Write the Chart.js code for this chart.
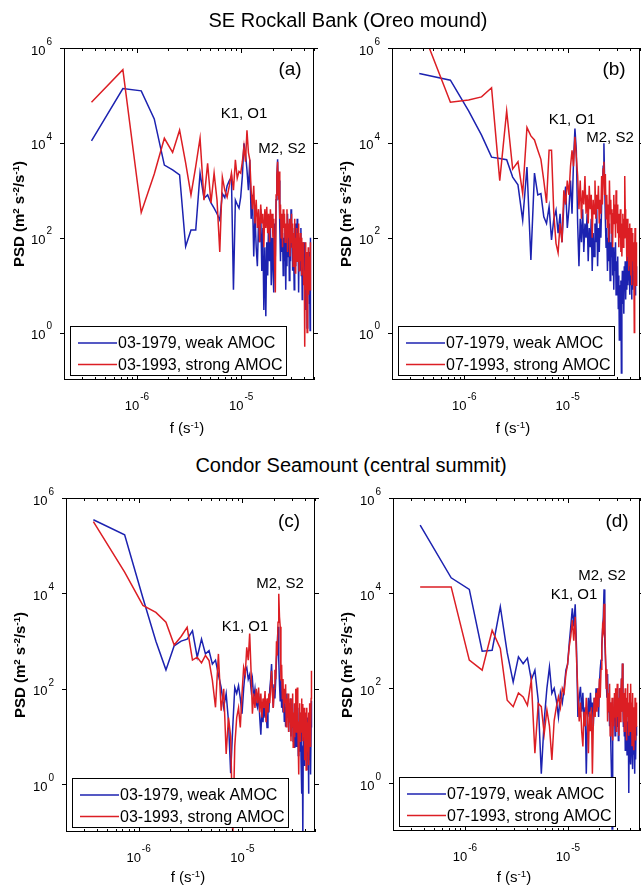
<!DOCTYPE html>
<html><head><meta charset="utf-8">
<script src="https://cdn.jsdelivr.net/npm/chart.js@4.4.1/dist/chart.umd.min.js"></script>
<style>
html,body{margin:0;padding:0;background:#fff;}
#page{position:relative;width:641px;height:887px;overflow:hidden;background:#fff;font-family:"Liberation Sans",Arial,sans-serif;color:#000;}
.cv{position:absolute;}
.cv canvas{display:block;}
.t{position:absolute;white-space:nowrap;transform:translate(-50%,-50%);line-height:1;}
.yt{position:absolute;white-space:nowrap;transform:translate(-50%,-50%) rotate(-90deg);font-weight:bold;font-size:15px;line-height:1;}
sup{font-size:65%;line-height:0;vertical-align:0.5em;}
</style></head>
<body><div id="page">
<div class="cv" style="left:0px;top:30px"><canvas id="ca" width="320" height="410"></canvas></div>
<div class="cv" style="left:320px;top:30px"><canvas id="cb" width="321" height="410"></canvas></div>
<div class="cv" style="left:0px;top:480px"><canvas id="cc" width="320" height="407"></canvas></div>
<div class="cv" style="left:320px;top:480px"><canvas id="cd" width="321" height="407"></canvas></div>

<div class="t" style="left:348px;top:20px;font-size:20px">SE Rockall Bank (Oreo mound)</div>
<div class="t" style="left:351px;top:465px;font-size:20px">Condor Seamount (central summit)</div>

<div class="t" style="left:290px;top:68px;font-size:19px">(a)</div>
<div class="t" style="left:614px;top:68px;font-size:19px">(b)</div>
<div class="t" style="left:289px;top:520px;font-size:19px">(c)</div>
<div class="t" style="left:617px;top:520px;font-size:19px">(d)</div>

<div class="t" style="left:244px;top:112px;font-size:15px">K1, O1</div>
<div class="t" style="left:282px;top:147px;font-size:15px">M2, S2</div>
<div class="t" style="left:572px;top:118px;font-size:15px">K1, O1</div>
<div class="t" style="left:610px;top:136px;font-size:15px">M2, S2</div>
<div class="t" style="left:280px;top:582px;font-size:15px">M2, S2</div>
<div class="t" style="left:245px;top:625px;font-size:15px">K1, O1</div>
<div class="t" style="left:602px;top:574px;font-size:15px">M2, S2</div>
<div class="t" style="left:574px;top:593px;font-size:15px">K1, O1</div>

<div class="yt" style="left:18px;top:214px">PSD (m<sup>2</sup> s<sup>-2</sup>/s<sup>-1</sup>)</div>
<div class="yt" style="left:345px;top:214px">PSD (m<sup>2</sup> s<sup>-2</sup>/s<sup>-1</sup>)</div>
<div class="yt" style="left:19px;top:665px">PSD (m<sup>2</sup> s<sup>-2</sup>/s<sup>-1</sup>)</div>
<div class="yt" style="left:346px;top:665px">PSD (m<sup>2</sup> s<sup>-2</sup>/s<sup>-1</sup>)</div>

<div class="t" style="left:187px;top:427px;font-size:15px">f (s<sup>-1</sup>)</div>
<div class="t" style="left:513px;top:427px;font-size:15px">f (s<sup>-1</sup>)</div>
<div class="t" style="left:188px;top:876px;font-size:15px">f (s<sup>-1</sup>)</div>
<div class="t" style="left:514px;top:876px;font-size:15px">f (s<sup>-1</sup>)</div>
</div>
<script>
// Frequencies (s^-1)
const FREQ = [3.67e-7,7.34e-7,1.101e-6,1.468e-6,1.835e-6,2.202e-6,2.569e-6,2.936e-6,3.303e-6,3.67e-6,
4.037e-6,4.404e-6,4.771e-6,5.138e-6,5.505e-6,5.872e-6,6.239e-6,6.606e-6,6.973e-6,7.34e-6,
7.707e-6,8.074e-6,8.441e-6,8.808e-6,9.175e-6,9.542e-6,9.909e-6,1.0276e-5,1.0643e-5,1.101e-5,
1.1377e-5,1.1744e-5,1.2111e-5,1.2478e-5,1.2845e-5,1.3212e-5,1.3579e-5,1.3946e-5,1.4313e-5,1.468e-5,
1.5047e-5,1.5414e-5,1.5781e-5,1.6148e-5,1.6515e-5,1.6882e-5,1.7249e-5,1.7616e-5,1.7983e-5,1.835e-5,
1.8717e-5,1.9084e-5,1.9451e-5,1.9818e-5,2.0185e-5,2.0552e-5,2.0919e-5,2.1286e-5,2.1653e-5,2.202e-5,
2.2387e-5,2.2754e-5,2.3121e-5,2.3488e-5,2.3855e-5,2.4222e-5,2.4589e-5,2.4956e-5,2.5323e-5,2.569e-5,
2.6057e-5,2.6424e-5,2.6791e-5,2.7158e-5,2.7525e-5,2.7892e-5,2.8259e-5,2.8626e-5,2.8993e-5,2.936e-5,
2.9727e-5,3.0094e-5,3.0461e-5,3.0828e-5,3.1195e-5,3.1562e-5,3.1929e-5,3.2296e-5,3.2663e-5,3.303e-5,
3.3397e-5,3.3764e-5,3.4131e-5,3.4498e-5,3.4865e-5,3.5232e-5,3.5599e-5,3.5966e-5,3.6333e-5,3.67e-5,
3.7067e-5,3.7434e-5,3.7801e-5,3.8168e-5,3.8535e-5,3.8902e-5,3.9269e-5,3.9636e-5,4.0003e-5,4.037e-5,
4.0737e-5,4.1104e-5,4.1471e-5,4.1838e-5,4.2205e-5,4.2572e-5,4.2939e-5,4.3306e-5,4.3673e-5,4.404e-5,
4.4407e-5,4.4774e-5,4.5141e-5,4.5508e-5,4.5875e-5,4.6242e-5];

// (a) SE Rockall Bank, March
const PSD_A_1979 = [1.1e4,1.4e5,1.25e5,3.2e4,3.4e3,2.7e3,2.1e3,65,145,145,
2.3e3,680,800,540,420,320,235,850,700,1.25e3,
1.6e3,1.9e3,8,620,500,420,720,2e3,9.8e3,6e3,
2.7e3,1e3,4.4e3,250,800,40,320,63,25,200,
80,400,20,160,3,63,2.2,80,16,250,
32,160,10,100,25,7,200,40,630,2e3,
4.5e3,800,1.6e3,160,32,250,50,125,16,100,
32,160,8,80,25,320,40,160,12.5,100,
32,400,63,160,20,100,40,8,80,200,
25,125,50,250,32,80,7,63,20,100,
40,160,16,63,5,32,80,12.5,50,20,
80,10,3,32,16,50,1.25,25,8,40,
12.5,50,4,25,1.1,100];
const PSD_A_1993 = [7.2e4,3.5e5,340,2.2e3,1.25e4,6.3e3,1.85e4,3.8e3,800,3.2e3,
1.25e4,620,3.7e3,540,2.3e3,620,50,1.9e3,1e3,720,
1.25e3,2.3e3,1e3,4.4e3,1.8e3,2.5e3,2.3e3,4e3,8.3e3,4e3,
1.85e4,6.3e3,4.4e3,1e3,400,1.25e3,200,630,160,400,
80,500,200,320,63,400,160,450,125,320,
80,400,160,320,100,250,32,7,800,2e3,
4e3,630,2.5e3,250,500,100,320,63,400,160,
320,80,200,100,400,50,200,100,250,40,
160,80,320,63,200,25,125,63,250,18,
100,50,160,32,125,63,200,20,80,40,
125,32,100,16,63,25,80,10,40,12.5,
0.5,20,80,8,50,16,1,32,10,63,
6.3,25,10,40,8,80];

// (b) SE Rockall Bank, July
const PSD_B_1979 = [2.9e5,2.1e5,4.7e4,1.45e4,5e3,4.7e3,4.4e3,1.9e3,1.3e3,235,
3.1e3,34,2.3e3,800,850,275,200,450,90,250,
380,125,320,80,500,1.2e3,160,400,1.6e3,320,
4e3,2e4,7e3,200,25,250,80,400,50,200,
100,320,32,160,63,250,20,125,40,200,
80,400,25,160,50,250,100,500,1.25e3,3.2e3,
9.8e3,1.6e3,250,63,160,20,100,32,200,12.5,
80,40,125,16,63,8,50,20,80,6.3,
32,10,40,3.2,16,0.7,10,2,12.5,0.14,
6.3,20,4,16,2.5,25,8,32,5,16,
40,8,25,10,50,12.5,32,6.3,20,63,
10,32,5,16,40,8,25,10,50,12.5,
32,6.3,20,40,10,25];
const PSD_B_1993 = [3.5e6,7.2e4,8e4,9.3e4,1.45e5,1.6e3,4.7e4,2.8e3,4e3,850,
2.1e4,1.4e4,1.15e4,7e3,4.5e3,1.6e3,540,7e3,7e3,320,
76,48,200,80,1e3,500,1.6e3,800,3.2e3,7e3,
3.2e3,1.35e4,5e3,2e3,400,1.6e3,250,1e3,500,2e3,
320,800,200,1.25e3,400,800,100,630,320,1.6e3,
250,800,400,1.25e3,200,630,320,2e3,500,2.8e3,
4e3,800,2.2e3,250,800,160,500,80,1.6e3,320,
630,125,400,63,320,800,200,500,100,1e3,
200,500,125,320,63,250,100,400,50,200,
40,160,320,63,250,100,2e3,400,100,250,
32,125,250,40,160,20,80,200,25,100,
16,160,10,50,125,32,80,20,63,1,
40,160,20,63,10,80];

// (c) Condor Seamount, March
const PSD_C_1979 = [3.5e5,1.7e5,8e3,1e3,250,800,1e3,1.1e3,1.65e3,460,
1.1e3,540,630,330,400,200,107,41,80,21,
1.7,16,107,80,117,63,30,100,240,280,
160,200,100,160,63,100,50,41,80,25,
11,40,20,50,25,40,15.5,63,32,100,
160,330,100,40,125,63,150,400,800,2e3,
400,125,56,160,40,80,32,63,21,50,
16,40,80,25,50,12.5,40,20,63,10,
32,16,50,8,25,6,20,10,32,6.3,
25,12.5,40,4,20,10,32,5,16,3.2,
12.5,0.63,4,0.08,6.3,20,2.5,12.5,5,25,
8,16,2,10,25,4,12.5,0.63,8,20,
3.2,10,1.6,1.7,16,56];
const PSD_C_1993 = [3.2e5,2.8e4,5.6e3,4e3,2.5e3,830,1.25e3,1.95e3,400,460,
350,500,390,150,41,540,35,100,4.3,25,
10,0.08,6.3,25,40,15.5,80,280,200,740,
400,1.45e3,240,30,80,40,100,50,107,32,
80,25,63,40,90,20,63,32,80,50,
125,240,80,40,100,250,160,1e3,500,2.5e3,
9.8e3,3.2e3,2e3,150,320,63,160,32,100,50,
125,16,63,25,80,12.5,50,20,63,8,
40,16,80,6,32,10,50,20,100,12.5,
40,107,25,6.3,1.6,20,50,8,32,12.5,
63,16,48,8,25,10,40,3.2,20,6.3,
32,2,12.5,40,5,20,8,32,2.5,16,
50,6.3,25,10,63,240];

// (d) Condor Seamount, July
const PSD_D_1979 = [2.7e5,2.1e4,1.2e4,600,630,5.2e3,560,135,460,330,
430,150,240,56,1.6,21,100,280,78,100,
56,25,80,50,100,240,320,870,2e3,4.8e3,
2e3,5.8e3,630,25,63,107,32,80,16,40,
1.6,20,63,25,80,32,50,16,63,32,
100,40,80,25,125,250,390,800,1.65e3,3.2e3,
1.2e4,1e3,400,160,63,200,32,80,16,50,
6.3,1.6,0.11,10,40,20,63,10,40,25,
80,16,50,8,32,100,20,63,32,160,
40,330,50,16,63,10,32,5,25,10,
40,4,20,8,16,0.63,10,32,5,20,
2.5,12.5,40,6.3,16,2,10,25,4,12.5,
1.6,8,20,3.2,16,10];
const PSD_D_1993 = [1.35e4,1.35e4,390,240,1.65e3,690,56,41,80,66,
44,150,4.3,48,41,11,35,16,3.1,21,
40,66,40,100,80,200,320,740,1.25e3,2.7e3,
1e3,3.2e3,400,78,20,50,12.5,6,32,16,
63,25,4.3,32,12.5,40,1.6,20,63,25,
80,32,100,40,160,63,250,630,1.95e3,1.6e3,
6e3,2e3,500,100,250,20,80,32,125,10,
50,20,63,8,40,16,80,25,100,12.5,
50,125,25,63,10,40,100,20,80,160,
32,330,63,20,80,12.5,50,100,16,40,
8,63,125,25,50,10,32,80,12.5,40,
125,20,50,6.3,32,80,10,25,5,40,
16,63,8,32,16,50];

// Axis ticks
const X_TICKS = [2e-7,3e-7,4e-7,5e-7,6e-7,7e-7,8e-7,9e-7,1e-6,2e-6,3e-6,4e-6,5e-6,6e-6,7e-6,8e-6,9e-6,1e-5,2e-5,3e-5,4e-5,5e-5];
const X_MAJOR = [1e-6, 1e-5];
const X_MAJOR_EXP = ['-6', '-5'];
const Y_TICKS = [1, 1e2, 1e4, 1e6];
const Y_TICK_EXP = ['0', '2', '4', '6'];

const LEG_A = ['03-1979, weak AMOC', '03-1993, strong AMOC'];
const LEG_B = ['07-1979, weak AMOC', '07-1993, strong AMOC'];

const BLUE = '#1c22b0';
const RED = '#dc1e24';
const FONT = '"Liberation Sans", Arial, Helvetica, sans-serif';

function drawPow(ctx, exp, x, y, align) {
  ctx.font = '13px ' + FONT;
  const w1 = ctx.measureText('10').width;
  ctx.font = '10px ' + FONT;
  const w2 = ctx.measureText(exp).width;
  const w = w1 + w2 + 1;
  let x0 = align === 'center' ? x - w / 2 : x - w;
  ctx.textAlign = 'left';
  ctx.textBaseline = 'middle';
  ctx.font = '13px ' + FONT;
  ctx.fillText('10', x0, y);
  ctx.font = '10px ' + FONT;
  ctx.fillText(exp, x0 + w1 + 1, y - 9);
}

const decor = {
  id: 'decor',
  afterDraw(chart, args, opts) {
    const ctx = chart.ctx, a = chart.chartArea, xs = chart.scales.x, ys = chart.scales.y;
    ctx.save();
    ctx.strokeStyle = '#000';
    ctx.fillStyle = '#000';
    ctx.lineWidth = 1;
    // ticks
    ctx.beginPath();
    X_TICKS.forEach(v => {
      const px = Math.round(xs.getPixelForValue(v)) + 0.5;
      const len = X_MAJOR.includes(v) ? 5 : 3;
      ctx.moveTo(px, a.bottom); ctx.lineTo(px, a.bottom - len);
      ctx.moveTo(px, a.top); ctx.lineTo(px, a.top + len);
    });
    Y_TICKS.forEach(v => {
      const py = Math.round(ys.getPixelForValue(v)) + 0.5;
      ctx.moveTo(a.left, py); ctx.lineTo(a.left - 4, py);
      ctx.moveTo(a.right, py); ctx.lineTo(a.right + 4, py);
    });
    ctx.stroke();
    // box
    ctx.strokeRect(a.left + 0.5, a.top + 0.5, a.right - a.left - 1, a.bottom - a.top - 1);
    // tick labels
    X_MAJOR.forEach((v, i) => {
      drawPow(ctx, X_MAJOR_EXP[i], xs.getPixelForValue(v), a.bottom + 26, 'center');
    });
    Y_TICKS.forEach((v, i) => {
      drawPow(ctx, Y_TICK_EXP[i], a.left - 12, ys.getPixelForValue(v) + 3, 'right');
    });
    // legend
    const lx = a.left + 6, lw = 216, lh = 49, ly = a.bottom - 5 - lh;
    ctx.fillStyle = '#fff';
    ctx.fillRect(lx, ly, lw, lh);
    ctx.strokeStyle = '#000';
    ctx.lineWidth = 1;
    ctx.strokeRect(lx + 0.5, ly + 0.5, lw, lh);
    const ds = chart.data.datasets;
    [0, 1].forEach(i => {
      const yy = ly + (i === 0 ? 17 : 38.5);
      ctx.strokeStyle = ds[i].borderColor;
      ctx.lineWidth = 1.5;
      ctx.beginPath(); ctx.moveTo(lx + 8, yy); ctx.lineTo(lx + 47, yy); ctx.stroke();
      ctx.fillStyle = '#000';
      ctx.font = '16px ' + FONT;
      ctx.textAlign = 'left';
      ctx.textBaseline = 'middle';
      ctx.fillText(ds[i].label, lx + 48, yy + 1);
    });
    ctx.restore();
  }
};

function makePanel(id, area, blue, red, legend) {
  const canvas = document.getElementById(id);
  const W = canvas.width, H = canvas.height;
  return new Chart(canvas, {
    type: 'line',
    data: {
      datasets: [
        { label: legend[0], data: FREQ.map((f, i) => ({ x: f, y: blue[i] })), borderColor: BLUE, borderWidth: 1.5, pointRadius: 0, tension: 0, order: 1, clip: 0, fill: false },
        { label: legend[1], data: FREQ.map((f, i) => ({ x: f, y: red[i] })), borderColor: RED, borderWidth: 1.5, pointRadius: 0, tension: 0, order: 0, clip: 0, fill: false }
      ]
    },
    options: {
      responsive: false, animation: false, devicePixelRatio: 1,
      layout: { padding: { left: 0, top: area.top, right: W - area.right, bottom: 0 } },
      plugins: { legend: { display: false }, tooltip: { enabled: false }, title: { display: false } },
      scales: {
        x: {
          type: 'logarithmic', min: 2e-7, max: 5e-5,
          grid: { display: false }, border: { display: false },
          ticks: { display: false },
          afterBuildTicks: s => { s.ticks = X_TICKS.map(v => ({ value: v })); },
          afterFit: s => { s.height = H - area.bottom; }
        },
        y: {
          type: 'logarithmic', min: 0.1, max: 1e6,
          grid: { display: false }, border: { display: false },
          ticks: { display: false },
          afterBuildTicks: s => { s.ticks = Y_TICKS.map(v => ({ value: v })); },
          afterFit: s => { s.width = area.left; }
        }
      }
    },
    plugins: [decor]
  });
}

makePanel('ca', { left: 64, top: 18, right: 314, bottom: 350 }, PSD_A_1979, PSD_A_1993, LEG_A);
makePanel('cb', { left: 72, top: 18, right: 320, bottom: 350 }, PSD_B_1979, PSD_B_1993, LEG_B);
makePanel('cc', { left: 66, top: 18, right: 315, bottom: 352 }, PSD_C_1979, PSD_C_1993, LEG_A);
makePanel('cd', { left: 73, top: 18, right: 320, bottom: 351 }, PSD_D_1979, PSD_D_1993, LEG_B);
</script>
</body></html>
